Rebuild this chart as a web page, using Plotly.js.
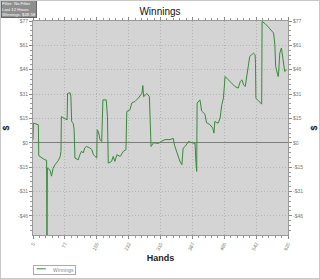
<!DOCTYPE html>
<html><head><meta charset="utf-8">
<script src="https://cdn.plot.ly/plotly-3.0.1.min.js"></script>
<style>html,body{margin:0;padding:0;background:#fff;}#c{width:318px;height:277px;border:1px solid #c8c8c8;}</style>
</head><body><div id="c"></div>
<script>
const hands = [0,1,13,14,29,33,34,35,41,45,49,53,62,66,68,69,78,83,84,90,92,94,98,100,102,110,114,118,122,126,130,138,143,147,151,155,156,159,163,167,170,178,181,183,191,195,199,204,212,220,226,228,236,240,248,256,265,267,269,277,283,285,287,293,305,313,321,333,341,344,349,357,362,365,370,378,390,394,396,398,399,406,410,418,422,430,437,440,442,450,455,459,463,467,475,483,491,499,504,508,512,516,520,523,527,536,540,541,542,546,550,556,557,564,572,580,585,588,590,596,597,600,604,606,608,610,612,617];
const winnings = [2,12.4,11.3,-8.2,-10.7,-11,-58,-15.8,-17,-21,-16,-14,-11,-8.6,-5.5,16.5,15,14.5,31,31.5,29.5,13.4,12,8.2,-9.6,-10.7,-7.5,-5.3,-6.4,-3.2,-2.3,-3.2,-4.3,-7.5,-8.6,-9.6,8.2,7.1,1.9,0.8,27,27,16.5,-12.8,-11.7,-8.6,-11.7,-7.5,-8.6,-5.3,-4.4,19.7,20.8,25,26,28.1,31.2,36,29,31,29,1.9,-2.3,0,-0.4,1,2,2,2.8,-1.5,-5.5,-11.5,-13.8,-3.4,-2.3,0.8,-0.3,-0.3,-11.5,-18,25,27,20,18,12.6,11.5,9.2,6.1,13.4,12.3,15.5,23.9,28.1,41.7,39.6,37.5,35.4,34.4,38.6,39.6,36.5,35.4,42.8,46,54.3,56.4,55.4,50,28.1,27,26,24.3,76.3,75,72.9,70.8,69,61.6,48,41.7,43,56.4,59.6,56,52,47,44.8,46];
const yTickVals = [-45.96,-30.64,-15.32,0,15.32,30.64,45.96,61.28,76.6];
const yTickText = ['-$46','-$31','-$15','$0','$15','$31','$46','$61','$77'];
const xTickVals = [0,77.5,155,232.5,310,387.5,465,542.5,620];
const xTickText = ['0','77','155','232','310','387','465','542','620'];
const seriesName = 'Winnings';
const infoText = 'Filter: No Filter<br>Last 12 Hours<br>Winnings: $48.58';

const F = 'Liberation Sans, Arial, sans-serif';
const LINE = '#3a8a3a';
const yCommon = {
  range:[-58,76.6], tickmode:'array', tickvals:yTickVals, ticktext:yTickText,
  tickfont:{size:5,color:'#777',family:F}, ticks:'outside', ticklen:3, tickcolor:'#888',
  showline:true, linecolor:'#999', linewidth:1,
  minor:{ticks:'outside', ticklen:2, tickcolor:'#999', tick0:0, dtick:3.064, showgrid:false},
  title:{text:'$', font:{size:9,color:'#222',family:F,weight:'bold'}, standoff:8}
};
const data = [
  {x:hands, y:winnings, type:'scatter', mode:'lines', name:seriesName,
   line:{color:LINE, width:1}},
  {x:hands, y:winnings, type:'scatter', mode:'lines', yaxis:'y2', showlegend:false,
   hoverinfo:'skip', opacity:0, line:{width:0}}
];
const layout = {
  width:318, height:277, margin:{l:32,r:31,t:20,b:43},
  paper_bgcolor:'#fff', plot_bgcolor:'#d4d4d4',
  title:{text:'Winnings', font:{size:10,color:'#111',family:F}, x:0.5, xanchor:'center', y:0.975, yanchor:'top'},
  xaxis:{range:[0,620], tickmode:'array', tickvals:xTickVals, ticktext:xTickText, tickangle:-65,
    tickfont:{size:5,color:'#777',family:F}, ticks:'outside', ticklen:3, tickcolor:'#888',
    showline:true, linecolor:'#999', mirror:'ticks',
    minor:{ticks:'outside', ticklen:2, tickcolor:'#999', tick0:0, dtick:15.5, showgrid:false},
    showgrid:true, gridcolor:'#b4b4b4', griddash:'1px,2px', gridwidth:1, zeroline:false,
    title:{text:'Hands', font:{size:9,color:'#222',family:F,weight:'bold'}, standoff:4}},
  yaxis:Object.assign({}, yCommon, {showgrid:true, gridcolor:'#b4b4b4', griddash:'1px,2px',
    zeroline:true, zerolinecolor:'#7d7d7d', zerolinewidth:1}),
  yaxis2:Object.assign({}, yCommon, {overlaying:'y', side:'right', showgrid:false, zeroline:false}),
  showlegend:false,
  shapes:[{type:'line', xref:'paper', yref:'paper', x0:0.014, x1:0.05, y0:-0.158, y1:-0.158,
    line:{color:LINE, width:1}}],
  annotations:[
    {xref:'paper', yref:'paper', x:-0.125, y:1.1, xanchor:'left', yanchor:'top',
     text:infoText, showarrow:false, align:'left', bgcolor:'#8e8e8e', bordercolor:'#666', borderwidth:1,
     borderpad:0, font:{size:4.3,color:'#fff',family:F}},
    {xref:'paper', yref:'paper', x:0, y:-0.14, xanchor:'left', yanchor:'top',
     text:'             '+seriesName, showarrow:false, align:'left', bgcolor:'rgba(255,255,255,0)',
     bordercolor:'#aaa', borderwidth:1, borderpad:1, font:{size:5,color:'#888',family:F}}
  ]
};
Plotly.newPlot('c', data, layout, {displayModeBar:false, staticPlot:true});
</script></body></html>
